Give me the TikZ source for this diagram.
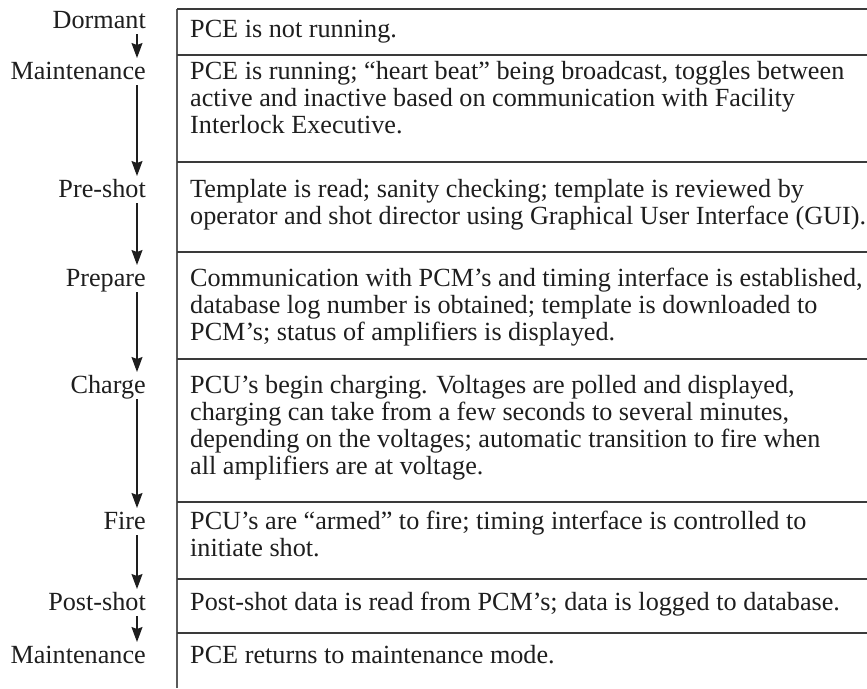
\documentclass[tikz,border=0pt]{standalone}
\usepackage{fontspec}
\setmainfont{Liberation Serif}
\usetikzlibrary{arrows.meta,calc}
\definecolor{ink}{HTML}{1E1E1E}
\definecolor{rulegray}{HTML}{3A3A3A}
\definecolor{sidegray}{HTML}{5A5A5A}
% one table row of text, first baseline at the node's base anchor
\newcommand{\rowtext}[1]{\parbox[t]{700pt}{#1}}
\begin{document}
\begin{tikzpicture}[x=1pt,y=-1pt,
  font=\fontsize{26.2}{27}\selectfont,
  lab/.style={anchor=base east,inner sep=0pt,text=ink},
  desc/.style={anchor=base west,inner sep=0pt,text=ink},
  flow/.style={draw=ink,line width=1.4pt,-{Stealth[length=15pt,width=11pt,inset=2pt]}},
  tablerule/.style={draw=rulegray,line width=2pt}]
\useasboundingbox (0,0) rectangle (867,688);

% table frame
\draw[tablerule,draw=sidegray] (177,9) -- (177,688);
\foreach \yy in {9,54.5,162,251.5,359,502,579,633}
  \draw[tablerule] (177,\yy) -- (867,\yy);

% state names
\node[lab] (l1) at (146,28)  {Dormant};
\node[lab] (l2) at (146,79)  {Maintenance};
\node[lab] (l3) at (146,197) {Pre-shot};
\node[lab] (l4) at (146,286) {Prepare};
\node[lab] (l5) at (146,393) {Charge};
\node[lab] (l6) at (146,529) {Fire};
\node[lab] (l7) at (146,610) {Post-shot};
\node[lab] (l8) at (146,663) {Maintenance};

% descriptions
\node[desc] (d1) at (190,37)  {\rowtext{PCE is not running.}};
\node[desc] (d2) at (190,79)  {\rowtext{PCE is running; “heart beat” being broadcast, toggles between\\
active and inactive based on communication with Facility\\
Interlock Executive.}};
\node[desc] (d3) at (190,197) {\rowtext{Template is read; sanity checking; template is reviewed by\\
operator and shot director using Graphical User Interface (GUI).}};
\node[desc] (d4) at (190,286) {\rowtext{Communication with PCM’s and timing interface is established,\\
database log number is obtained; template is downloaded to\\
PCM’s; status of amplifiers is displayed.}};
\node[desc] (d5) at (190,393) {\rowtext{PCU’s begin charging. Voltages are polled and displayed,\\
charging can take from a few seconds to several minutes,\\
depending on the voltages; automatic transition to fire when\\
all amplifiers are at voltage.}};
\node[desc] (d6) at (190,529) {\rowtext{PCU’s are “armed” to fire; timing interface is controlled to\\
initiate shot.}};
\node[desc] (d7) at (190,610) {\rowtext{Post-shot data is read from PCM’s; data is logged to database.}};
\node[desc] (d8) at (190,663) {\rowtext{PCE returns to maintenance mode.}};

% transitions between states
\coordinate (ax) at (137,0);
\foreach \a/\b in {l1/l2,l2/l3,l3/l4,l4/l5,l5/l6,l6/l7,l7/l8}
  \draw[flow] ($(\a.base -| ax)+(0,6)$) -- ($(\b.base -| ax)+(0,-21)$);
\end{tikzpicture}
\end{document}
